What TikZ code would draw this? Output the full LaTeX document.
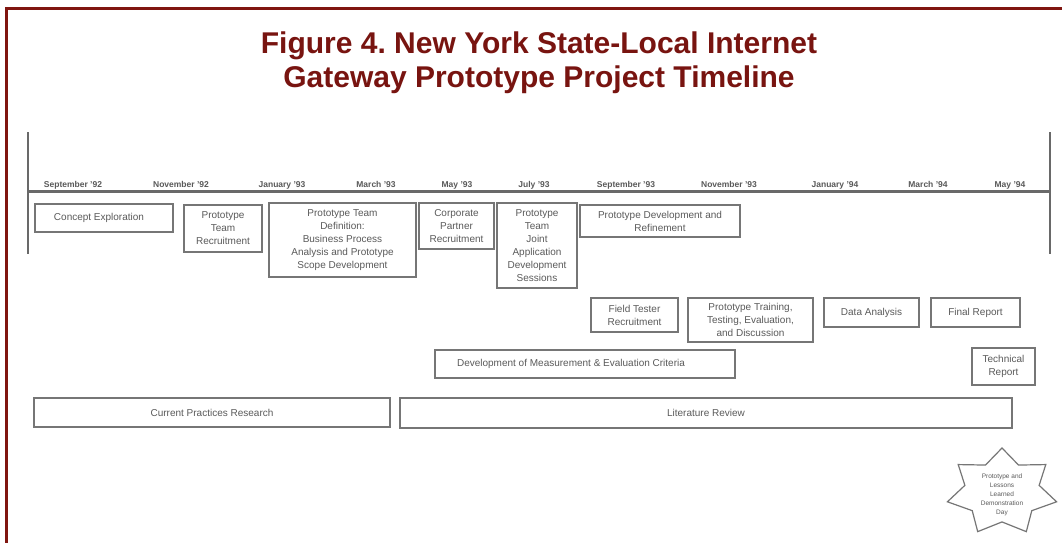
\documentclass[tikz,border=0pt]{standalone}
\usepackage{fontspec}
\setmainfont{Liberation Sans}
\definecolor{frameRed}{RGB}{128,22,16}
\definecolor{titleRed}{RGB}{120,20,16}
\definecolor{lineGray}{RGB}{105,105,105}
\definecolor{boxGray}{RGB}{118,118,118}
\definecolor{txtGray}{RGB}{90,90,90}
\begin{document}
\begin{tikzpicture}[x=1pt,y=-1pt,
  box/.style={draw=boxGray, line width=1.4pt, inner sep=0pt, align=center,
    font=\fontsize{10}{13}\selectfont, text=txtGray},
  month/.style={anchor=base, inner sep=0pt, font=\fontsize{8.5}{9}\selectfont\bfseries, text=black!65},
  titletext/.style={anchor=base, inner sep=0pt, font=\fontsize{30}{34}\selectfont\bfseries, text=titleRed},
  axis/.style={draw=lineGray, line width=2.6pt},
  starline/.style={draw=boxGray, line width=1.2pt, line join=miter},
  framebar/.style={draw=frameRed, line width=3pt}]
\useasboundingbox (0,0) rectangle (1062,543);
\fill[white] (0,0) rectangle (1062,543);
% frame
\coordinate (fbl) at (6.5,543);
\coordinate (ftl) at (6.5,8.5);
\coordinate (ftr) at (1062,8.5);
\draw[framebar] (fbl) -- (ftl) -- (ftr);
% title
\node[titletext] (title1) at (539,53) {Figure 4.\ New York State-Local Internet};
\node[titletext] (title2) at (539,87) {Gateway Prototype Project Timeline};
% axis
\coordinate (lt) at (28,132);
\coordinate (lb) at (28,254);
\coordinate (rt) at (1050,132);
\coordinate (rb) at (1050,254);
\coordinate (al) at (28,191.5);
\coordinate (ar) at (1050,191.5);
\draw[axis] (lt) -- (lb);
\draw[axis] (rt) -- (rb);
\draw[axis] (al) -- (ar);
% months
\node[month] (m1) at (73,187) {September '92};
\node[month] (m2) at (181,187) {November '92};
\node[month] (m3) at (282,187) {January '93};
\node[month] (m4) at (376,187) {March '93};
\node[month] (m5) at (457,187) {May '93};
\node[month] (m6) at (534,187) {July '93};
\node[month] (m7) at (626,187) {September '93};
\node[month] (m8) at (729,187) {November '93};
\node[month] (m9) at (835,187) {January '94};
\node[month] (m10) at (928,187) {March '94};
\node[month] (m11) at (1010,187) {May '94};
% boxes
\node[box, minimum width=138pt, minimum height=28pt] (concept) at (104,218) {\hspace*{-10pt}Concept Exploration};
\node[box, minimum width=78pt, minimum height=47pt] (recruit) at (223,228.5) {Prototype\\Team\\Recruitment};
\node[box, minimum width=147pt, minimum height=74pt] (define) at (342.5,240) {Prototype Team\\Definition:\\Business Process\\Analysis and Prototype\\Scope Development};
\node[box, minimum width=75pt, minimum height=46pt] (corp) at (456.5,226) {Corporate\\Partner\\Recruitment};
\node[box, minimum width=80pt, minimum height=85pt] (jad) at (537,245.5) {Prototype\\Team\\Joint\\Application\\Development\\Sessions};
\node[box, minimum width=160pt, minimum height=32pt] (refine) at (660,221) {Prototype Development and\\Refinement};
\node[box, minimum width=87pt, minimum height=34pt] (field) at (634.5,315) {Field Tester\\Recruitment};
\node[box, minimum width=125pt, minimum height=44pt] (train) at (750.5,320) {Prototype Training,\\Testing, Evaluation,\\and Discussion};
\node[box, minimum width=300pt, minimum height=28pt] (measure) at (585,364) {\hspace*{-28pt}Development of Measurement \& Evaluation Criteria};
\node[box, minimum width=95pt, minimum height=29pt] (data) at (871.5,312.5) {Data Analysis};
\node[box, minimum width=89pt, minimum height=29pt] (final) at (975.5,312.5) {Final Report};
\node[box, minimum width=63pt, minimum height=37pt] (tech) at (1003.5,366.5) {Technical\\Report};
\node[box, minimum width=356pt, minimum height=29pt] (current) at (212,412.5) {Current Practices Research};
\node[box, minimum width=612pt, minimum height=30pt] (lit) at (706,413) {Literature Review};
% star
\draw[starline, shift={(1002,492)}] (-90:56 and 44)
  \foreach \i [evaluate=\i as \r using {mod(\i,2)==0 ? 1 : 0.68}] in {1,...,13} { -- ({-90+\i*360/14}:{\r*56} and {\r*44}) } -- cycle;
\node[inner sep=0pt, align=center, font=\fontsize{6.5}{9}\selectfont, text=txtGray] (starlabel) at (1002,495) {Prototype and\\Lessons\\Learned\\Demonstration\\Day};
\end{tikzpicture}
\end{document}
